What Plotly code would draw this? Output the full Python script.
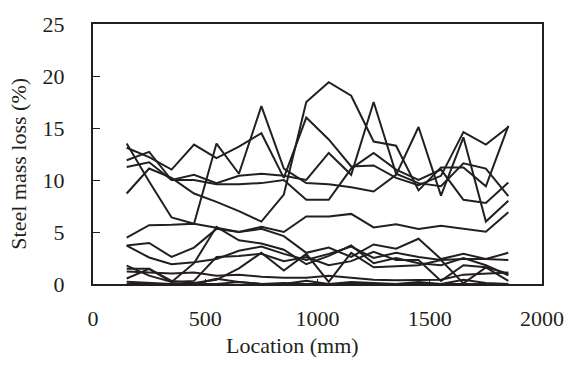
import plotly.graph_objects as go

location = [150, 250, 350, 450, 550, 650, 750, 850, 950, 1050, 1150, 1250, 1350, 1450, 1550, 1650, 1750, 1850]

# upper group
U1 = [13.5, 9.85, 6.4, 5.8, 13.5, 10.6, 17.1, 11.1, 9.7, 9.6, 9.3, 8.9, 10.5, 15.1, 8.5, 14.1, 6.0, 8.0]
U2 = [13.1, 12.2, 11.0, 13.4, 12.1, 13.2, 14.5, 10.2, 16.0, 13.9, 11.3, 11.4, 10.2, 9.5, 10.4, 14.6, 13.4, 15.1]
U3 = [11.9, 12.7, 10.0, 10.5, 9.7, 10.4, 10.6, 10.4, 10.0, 12.6, 10.5, 17.5, 10.6, 9.7, 9.4, 11.6, 11.1, 8.45]
U4 = [11.25, 11.7, 10.0, 10.0, 9.6, 9.6, 9.7, 10.0, 8.1, 8.1, 11.1, 12.6, 11.0, 10.0, 11.0, 8.1, 7.8, 9.75]
U5 = [8.7, 11.1, 10.2, 8.7, 7.9, 7.0, 6.0, 8.6, 17.5, 19.4, 18.1, 13.7, 13.3, 9.0, 11.2, 11.2, 9.4, 15.2]
# middle line
M1 = [4.47, 5.65, 5.7, 5.8, 5.4, 5.0, 5.5, 5.0, 6.5, 6.5, 6.74, 5.44, 5.75, 5.28, 5.59, 5.28, 5.03, 6.9]
# lower group
L1 = [3.7, 3.95, 2.6, 3.5, 5.3, 5.0, 5.3, 4.6, 3.0, 3.5, 2.6, 3.8, 3.4, 4.35, 2.4, 2.9, 2.4, 3.0]
L2 = [3.7, 2.55, 1.9, 2.1, 2.4, 3.2, 3.6, 2.9, 2.3, 2.9, 3.6, 2.5, 3.0, 2.6, 2.3, 2.4, 2.4, 2.3]
L3 = [1.77, 0.8, 0.2, 2.0, 5.5, 4.2, 3.9, 3.3, 1.9, 2.7, 3.7, 2.0, 2.5, 2.0, 1.8, 2.5, 1.8, 0.84]
L4 = [1.46, 1.46, 0.2, 0.3, 2.6, 2.7, 2.9, 2.2, 2.6, 1.8, 2.2, 3.1, 2.3, 2.3, 0.3, 1.8, 1.6, 1.0]
L5 = [0.53, 1.45, 0.3, 0.1, 0.4, 1.5, 3.0, 1.3, 2.9, 0.2, 3.0, 1.6, 1.7, 1.8, 2.3, 0.06, 1.6, 0.3]
L6 = [1.2, 1.1, 1.0, 1.1, 0.8, 0.9, 0.7, 0.6, 0.6, 0.8, 0.6, 0.4, 0.37, 0.37, 0.4, 0.9, 1.0, 1.1]
L7 = [0.22, 0.1, 0.0, 0.0, 0.0, 0.2, 0.0, 0.0, 0.3, 0.0, 0.0, 0.0, 0.0, 0.0, 0.0, 0.0, 0.0, 0.0]
L8 = [0.0, 0.0, 0.0, 0.0, 0.5, 0.2, 0.0, 0.1, 0.0, 0.0, 0.2, 0.1, 0.0, 0.2, 0.0, 0.4, 0.1, 0.0]

series = [U1, U2, U3, U4, U5, M1, L1, L2, L3, L4, L5, L6, L7, L8]

FONT = "Liberation Serif"
INK = "#231f20"

fig = go.Figure()
for s in series:
    fig.add_trace(go.Scatter(x=location, y=s, mode="lines",
                             line=dict(color=INK, width=2),
                             showlegend=False, hoverinfo="skip"))

axis_common = dict(showline=True, linecolor=INK, linewidth=2, mirror=True,
                   showgrid=False, zeroline=False, ticks="inside",
                   tickcolor=INK, tickfont=dict(family=FONT, size=22, color=INK))

fig.update_layout(
    width=576, height=369,
    margin=dict(l=93, r=25, t=15, b=85),
    paper_bgcolor="white", plot_bgcolor="white",
    xaxis=dict(range=[0, 2000], tickvals=[0, 500, 1000, 1500, 2000], ticklen=5,
               ticklabelstandoff=14, **axis_common),
    yaxis=dict(range=[0, 25], tickvals=[0, 5, 10, 15, 20, 25], ticklen=7,
               ticklabelstandoff=22, **axis_common),
    annotations=[
        dict(text="Location (mm)", xref="paper", yref="paper", x=(297 - 93) / 458, y=(284 - 348) / 269,
             showarrow=False, xanchor="center", yanchor="middle",
             font=dict(family=FONT, size=22, color=INK)),
        dict(text="Steel mass loss (%)", xref="paper", yref="paper", x=(17 - 93) / 458, y=(284 - 159) / 269,
             showarrow=False, xanchor="center", yanchor="middle", textangle=-90,
             font=dict(family=FONT, size=22, color=INK)),
    ],
)

fig.write_html("out.html")
